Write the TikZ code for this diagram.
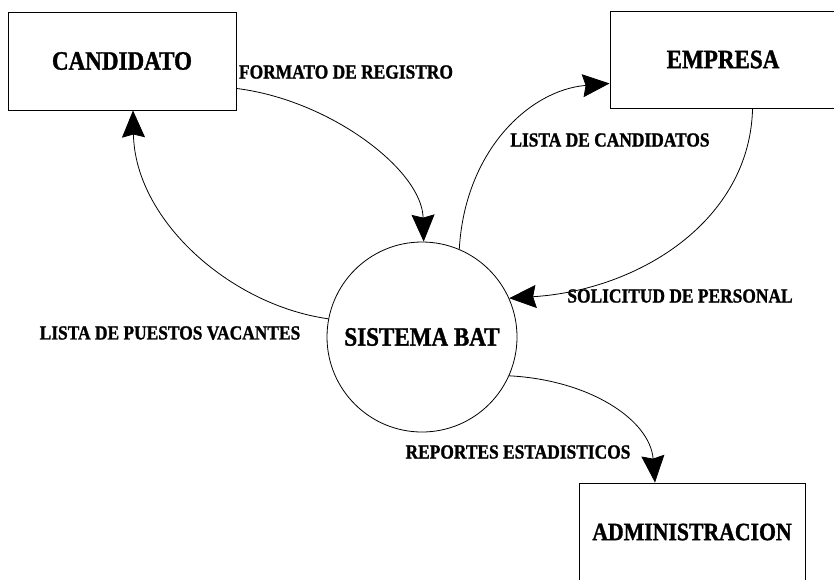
\documentclass[tikz,border=0pt]{standalone}
\usepackage{fontspec}
\setmainfont{Liberation Serif}[FakeStretch=0.87, BoldFeatures={FakeBold=1.2}]
\usetikzlibrary{arrows.meta,calc}
\begin{document}
\begin{tikzpicture}[x=1pt,y=-1pt,
  entity/.style={draw, line width=0.9pt, minimum width=228pt, minimum height=98pt, inner sep=0pt,
    font=\bfseries\fontsize{26.5}{30}\selectfont},
  proc/.style={draw, circle, line width=0.8pt, minimum size=190pt, inner sep=0pt,
    font=\bfseries\fontsize{26.5}{30}\selectfont},
  flow/.style={line width=0.8pt, -{Stealth[length=27pt,width=23pt,inset=3pt]}},
  lbl/.style={inner sep=0pt, font=\bfseries\fontsize{20}{24}\selectfont}]
\clip (0,0) rectangle (834,579);
\fill[white] (0,0) rectangle (834,579);
% entities
\node[entity] (cand) at (122,61) {CANDIDATO};
\node[entity, minimum width=226pt, minimum height=97pt] (emp) at (723,59.5) {EMPRESA};
\node[entity, minimum width=226pt, font=\bfseries\fontsize{25}{30}\selectfont] (adm) at (692,532) {ADMINISTRACION};
% process
\node[proc] (sys) at (422,337) {SISTEMA BAT};
% flows
\draw[flow] ($(cand.south east)+(0,-22)$) .. controls (330,100) and (422,170) .. (sys.89);
\draw[flow] (sys.169) .. controls (230,305) and (135,220) .. ($(cand.south)+(11,0)$);
\draw[flow] (sys.67) .. controls (465,150) and (530,90) .. ($(emp.south west)+(0,-25)$);
\draw[flow] ($(emp.south west)+(143,0)$) .. controls (750,220) and (640,290) .. (sys.24);
\draw[flow] (sys.-24) .. controls (590,380) and (650,420) .. ($(adm.north)+(-37,0)$);
% labels
\node[lbl] (lform) at (346,72) {FORMATO DE REGISTRO};
\node[lbl] (lcand) at (610,140) {LISTA DE CANDIDATOS};
\node[lbl] (lsol) at (680,296) {SOLICITUD DE PERSONAL};
\node[lbl] (lpue) at (170,333) {LISTA DE PUESTOS VACANTES};
\node[lbl] (lrep) at (518,452) {REPORTES ESTADISTICOS};
\end{tikzpicture}
\end{document}
